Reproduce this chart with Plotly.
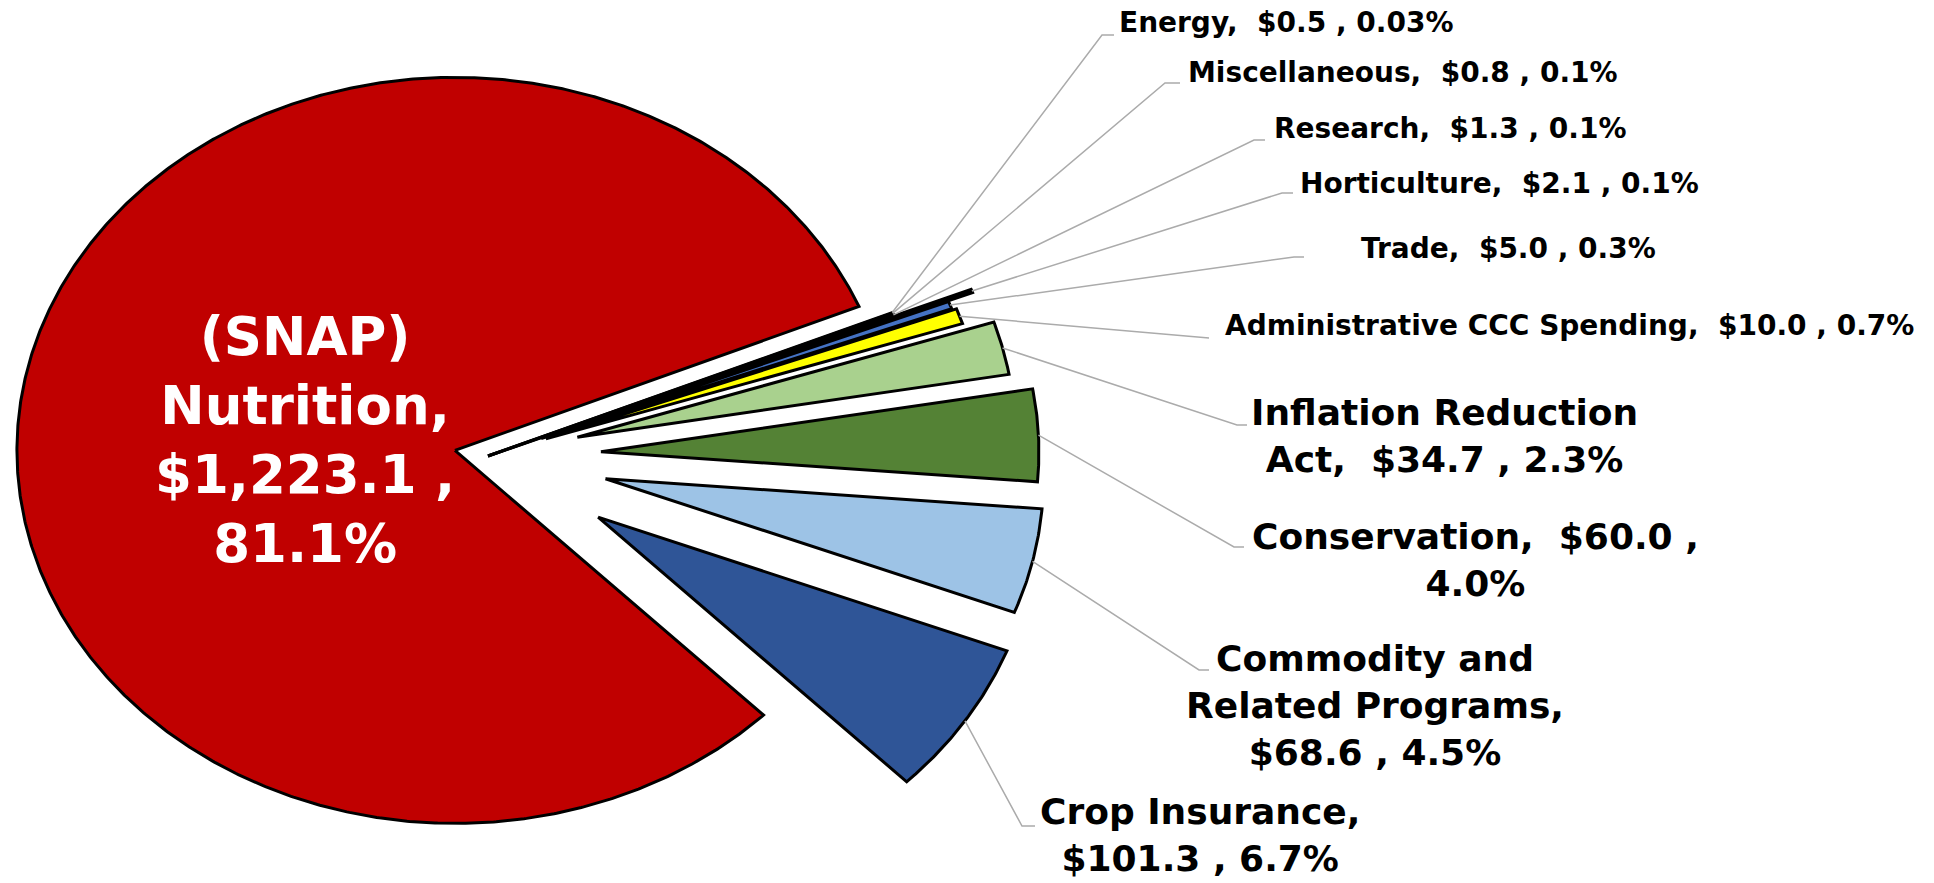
import numpy as np
import plotly.graph_objects as go

# ---------------- data ----------------
categories = ["(SNAP) Nutrition", "Energy", "Miscellaneous", "Research", "Horticulture",
              "Trade", "Administrative CCC Spending", "Inflation Reduction Act",
              "Conservation", "Commodity and Related Programs", "Crop Insurance"]
values = [1223.1, 0.5, 0.8, 1.3, 2.1, 5.0, 10.0, 34.7, 60.0, 68.6, 101.3]
pct_labels = ["81.1%", "0.03%", "0.1%", "0.1%", "0.1%", "0.3%", "0.7%",
              "2.3%", "4.0%", "4.5%", "6.7%"]

# ---------------- styles / layout ----------------
colors = ["#C00000", "#000000", "#000000", "#000000", "#0d0d0d", "#4472C4",
          "#FFFF00", "#A9D18E", "#548235", "#9DC3E6", "#2F5597"]
pulls = [0.077, 0.0, 0.0, 0.0, 0.19, 0.13, 0.14, 0.21, 0.258, 0.275, 0.30]

W, H = 1934, 883
CX, CY = 488, 456          # pie centre (px)
RX, RY = 438, 373          # ellipse radii (px)
START = -45.2              # angle (deg) where first slice starts, going clockwise

label_fmt = {
    "(SNAP) Nutrition": "(SNAP)<br>Nutrition,<br>${v} ,<br>{p}",
    "Energy": "Energy,\u00a0 ${v} , {p}",
    "Miscellaneous": "Miscellaneous,\u00a0 ${v} , {p}",
    "Research": "Research,\u00a0 ${v} , {p}",
    "Horticulture": "Horticulture,\u00a0 ${v} , {p}",
    "Trade": "Trade,\u00a0 ${v} , {p}",
    "Administrative CCC Spending": "Administrative CCC Spending,\u00a0 ${v} , {p}",
    "Inflation Reduction Act": "Inflation Reduction<br>Act,\u00a0 ${v} , {p}",
    "Conservation": "Conservation,\u00a0 ${v} ,<br>{p}",
    "Commodity and Related Programs": "Commodity and<br>Related Programs,<br>${v} , {p}",
    "Crop Insurance": "Crop Insurance,<br>${v} , {p}",
}
label_pos = {
    "(SNAP) Nutrition": (305, 440),
    "Energy": (1286, 22),
    "Miscellaneous": (1403, 72),
    "Research": (1450, 128),
    "Horticulture": (1499, 183),
    "Trade": (1508, 248),
    "Administrative CCC Spending": (1569, 325),
    "Inflation Reduction Act": (1444, 436),
    "Conservation": (1475, 560),
    "Commodity and Related Programs": (1375, 705),
    "Crop Insurance": (1200, 835),
}
big = {"Inflation Reduction Act", "Conservation", "Commodity and Related Programs", "Crop Insurance"}
# leader line elbow / end points near the labels (px)
leader_pts = {
    "Energy": [(1102, 35), (1114, 35)],
    "Miscellaneous": [(1165, 83), (1180, 83)],
    "Research": [(1254, 140), (1265, 140)],
    "Horticulture": [(1282, 193), (1293, 193)],
    "Trade": [(1294, 257), (1304, 257)],
    "Administrative CCC Spending": [(1209, 338)],
    "Inflation Reduction Act": [(1237, 425), (1247, 425)],
    "Conservation": [(1234, 547), (1244, 547)],
    "Commodity and Related Programs": [(1199, 670), (1209, 670)],
    "Crop Insurance": [(1022, 826), (1035, 826)],
}

FONT = "DejaVu Sans"

fig = go.Figure()
total = float(sum(values))
angle = START
annotations = []
leaders = []
for cat, v, p, col, pull in zip(categories, values, pct_labels, colors, pulls):
    span = v / total * 360.0
    a0, a1 = angle, angle - span          # clockwise
    mid = np.deg2rad((a0 + a1) / 2.0)
    dx = pull * RX * np.cos(mid)
    dy = -pull * RY * np.sin(mid)
    ax, ay = CX + dx, CY + dy
    n = max(4, int(abs(span) * 3))
    t = np.deg2rad(np.linspace(a0, a1, n))
    xs = np.concatenate([[ax], ax + RX * np.cos(t), [ax]])
    ys = np.concatenate([[ay], ay - RY * np.sin(t), [ay]])
    fig.add_trace(go.Scatter(x=xs, y=ys, mode="lines", fill="toself", fillcolor=col,
                             line=dict(color="black", width=3), name=cat,
                             hoverinfo="text", text=f"{cat}: ${v:,.1f}B ({p})"))
    if cat in leader_pts:
        sx = ax + RX * np.cos(mid)
        sy = ay - RY * np.sin(mid)
        leaders.append([(sx, sy)] + leader_pts[cat])
    txt = label_fmt[cat].format(v=f"{v:,.1f}", p=p)
    lx, ly = label_pos[cat]
    if cat == "(SNAP) Nutrition":
        size, colr = 53, "white"
    elif cat in big:
        size, colr = 36, "black"
    else:
        size, colr = 28, "black"
    annotations.append(dict(x=lx, y=ly, xref="x", yref="y", text=txt, showarrow=False,
                            xanchor="center", yanchor="middle", align="center",
                            font=dict(family=FONT, size=size, color=colr, weight="bold")))
    angle = a1

for pts in leaders:
    fig.add_trace(go.Scatter(x=[q[0] for q in pts], y=[q[1] for q in pts], mode="lines",
                             line=dict(color="#ABABAB", width=1.5), hoverinfo="skip",
                             showlegend=False))

fig.update_layout(
    width=W, height=H, autosize=False,
    margin=dict(l=0, r=0, t=0, b=0),
    paper_bgcolor="white", plot_bgcolor="white",
    showlegend=False,
    xaxis=dict(range=[0, W], visible=False, fixedrange=True),
    yaxis=dict(range=[H, 0], visible=False, fixedrange=True),
    annotations=annotations,
)
fig.write_html("out.html")
